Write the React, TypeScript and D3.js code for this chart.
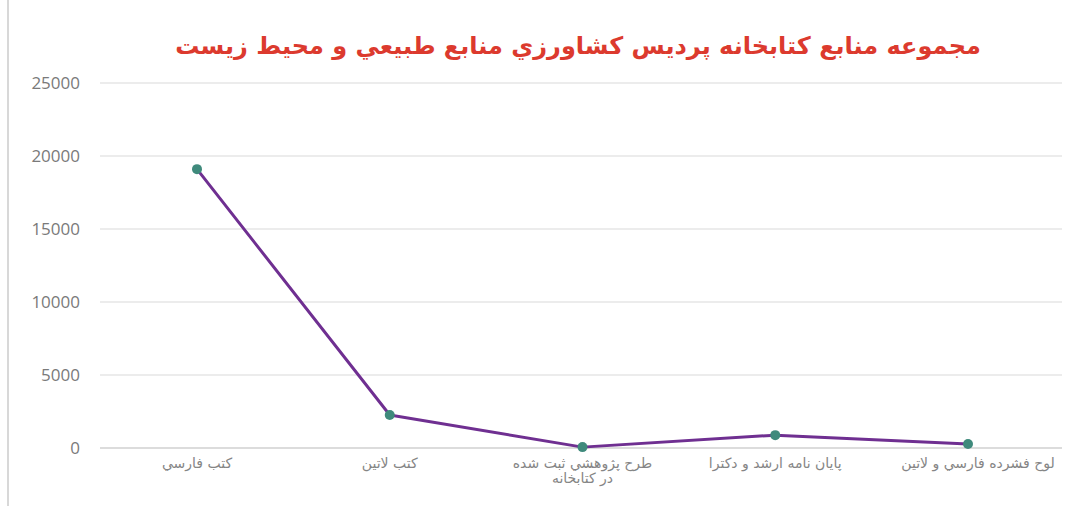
import React from "react";
import * as d3 from "d3";

const categories = [
  "كتب فارسي",
  "كتب لاتين",
  "طرح پژوهشي ثبت شده|در كتابخانه",
  "پايان نامه ارشد و دكترا",
  "لوح فشرده فارسي و لاتين",
];
const values = [19100, 2260, 60, 880, 280];
const yTicks = [0, 5000, 10000, 15000, 20000, 25000];
const title = "مجموعه منابع كتابخانه  پرديس كشاورزي منابع طبيعي و محيط زيست";

const W = 1082;
const H = 506;

export default function App() {
  const x = d3.scalePoint<string>().domain(categories).range([197, 968]);
  const y = d3.scaleLinear().domain([0, 25000]).range([448, 83]);
  const line = d3
    .line<number>()
    .x((_, i) => x(categories[i]) as number)
    .y((d) => y(d));
  return (
    <svg
      width={W}
      height={H}
      style={{ position: "absolute", left: 0, top: 0, background: "#fff" }}
    >
      <line x1={8} x2={8} y1={0} y2={H} stroke="#d8d8d8" strokeWidth={2} />
      <text
        x={578}
        y={54}
        textAnchor="middle"
        fill="#dc3a2e"
        fontFamily="'DejaVu Sans', sans-serif"
        fontWeight="bold"
        fontSize={24}
        direction="rtl"
      >
        {title}
      </text>
      {yTicks.map((t) => (
        <g key={t}>
          <line
            x1={100}
            x2={1062}
            y1={y(t)}
            y2={y(t)}
            stroke={t === 0 ? "#d0d0d0" : "#e6e6e6"}
            strokeWidth={1.5}
          />
          <text
            x={80}
            y={y(t)}
            dy="0.35em"
            textAnchor="end"
            fill="#7a7a7a"
            fontFamily="'Open Sans', sans-serif"
            fontSize={17}
          >
            {t}
          </text>
        </g>
      ))}
      {categories.map((c, ci) => {
        const lines = c.split("|");
        const cx = (x(c) as number) + (ci === 4 ? 10 : 0);
        return (
          <text
            key={c}
            x={cx}
            y={468}
            textAnchor="middle"
            fill="#858585"
            fontFamily="'DejaVu Sans', sans-serif"
            fontSize={14}
            direction="rtl"
          >
            {lines.map((l, i) => (
              <tspan key={i} x={cx} dy={i === 0 ? 0 : 15}>
                {l}
              </tspan>
            ))}
          </text>
        );
      })}
      <path
        d={line(values) || ""}
        fill="none"
        stroke="#6f2f91"
        strokeWidth={3}
        strokeLinejoin="round"
      />
      {values.map((v, i) => (
        <circle
          key={i}
          cx={x(categories[i]) as number}
          cy={y(v)}
          r={5}
          fill="#3f8a7c"
        />
      ))}
    </svg>
  );
}
